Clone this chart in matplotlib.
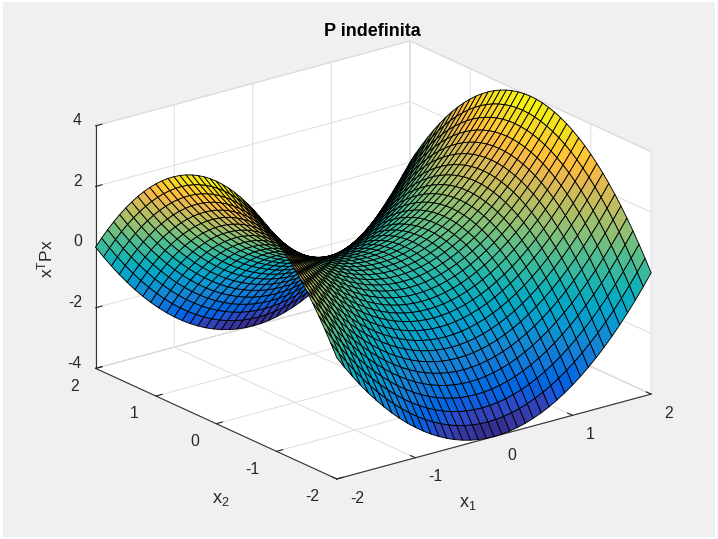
import numpy as np
import matplotlib
matplotlib.use("Agg")
import matplotlib.pyplot as plt
from matplotlib.colors import ListedColormap
from matplotlib.patches import Rectangle
from mpl_toolkits.mplot3d import proj3d

# Data
x1_grid = [-2.0,-1.9,-1.8,-1.7,-1.6,-1.5,-1.4,-1.3,-1.2,-1.1,-1.0,-0.9,-0.8,-0.7,-0.6,-0.5,-0.4,-0.3,-0.2,-0.1,0.0,
           0.1,0.2,0.3,0.4,0.5,0.6,0.7,0.8,0.9,1.0,1.1,1.2,1.3,1.4,1.5,1.6,1.7,1.8,1.9,2.0]
x2_grid = list(x1_grid)
# height of the surface along the edge x2 = 0 (as x1 varies)
z_along_x1 = [4.0,3.61,3.24,2.89,2.56,2.25,1.96,1.69,1.44,1.21,1.0,0.81,0.64,0.49,0.36,0.25,0.16,0.09,0.04,0.01,0.0,
              0.01,0.04,0.09,0.16,0.25,0.36,0.49,0.64,0.81,1.0,1.21,1.44,1.69,1.96,2.25,2.56,2.89,3.24,3.61,4.0]
# height of the surface along the edge x1 = 0 (as x2 varies)
z_along_x2 = [-4.0,-3.61,-3.24,-2.89,-2.56,-2.25,-1.96,-1.69,-1.44,-1.21,-1.0,-0.81,-0.64,-0.49,-0.36,-0.25,-0.16,-0.09,-0.04,-0.01,0.0,
              -0.01,-0.04,-0.09,-0.16,-0.25,-0.36,-0.49,-0.64,-0.81,-1.0,-1.21,-1.44,-1.69,-1.96,-2.25,-2.56,-2.89,-3.24,-3.61,-4.0]
x_ticks = [-2,-1,0,1,2]
y_ticks = [-2,-1,0,1,2]
z_ticks = [-4,-2,0,2,4]
title_text = "P indefinita"
x_label = r"$\mathregular{x_1}$"
y_label = r"$\mathregular{x_2}$"
z_label = r"$\mathregular{x^TPx}$"

parula = ListedColormap([
 [0.2081,0.1663,0.5292],[0.2116,0.1898,0.5777],[0.2123,0.2138,0.6270],[0.2081,0.2386,0.6771],
 [0.1959,0.2645,0.7279],[0.1707,0.2919,0.7792],[0.1253,0.3242,0.8303],[0.0591,0.3598,0.8683],
 [0.0117,0.3875,0.8820],[0.0060,0.4086,0.8828],[0.0165,0.4266,0.8786],[0.0329,0.4430,0.8720],
 [0.0498,0.4586,0.8641],[0.0629,0.4737,0.8554],[0.0723,0.4887,0.8467],[0.0779,0.5040,0.8384],
 [0.0793,0.5200,0.8312],[0.0749,0.5375,0.8263],[0.0641,0.5570,0.8240],[0.0488,0.5772,0.8228],
 [0.0343,0.5966,0.8199],[0.0265,0.6137,0.8135],[0.0239,0.6287,0.8038],[0.0231,0.6418,0.7913],
 [0.0228,0.6535,0.7768],[0.0267,0.6642,0.7607],[0.0384,0.6743,0.7436],[0.0590,0.6838,0.7254],
 [0.0843,0.6928,0.7062],[0.1133,0.7015,0.6859],[0.1453,0.7098,0.6646],[0.1801,0.7177,0.6424],
 [0.2178,0.7250,0.6193],[0.2586,0.7317,0.5954],[0.3022,0.7376,0.5712],[0.3482,0.7424,0.5473],
 [0.3953,0.7459,0.5244],[0.4420,0.7481,0.5033],[0.4871,0.7491,0.4840],[0.5300,0.7491,0.4661],
 [0.5709,0.7485,0.4494],[0.6099,0.7473,0.4337],[0.6473,0.7456,0.4188],[0.6834,0.7435,0.4044],
 [0.7184,0.7411,0.3905],[0.7525,0.7384,0.3768],[0.7858,0.7356,0.3633],[0.8185,0.7327,0.3498],
 [0.8507,0.7299,0.3360],[0.8824,0.7274,0.3217],[0.9139,0.7258,0.3063],[0.9450,0.7261,0.2886],
 [0.9739,0.7314,0.2666],[0.9938,0.7455,0.2403],[0.9990,0.7653,0.2164],[0.9955,0.7861,0.1967],
 [0.9880,0.8066,0.1794],[0.9789,0.8271,0.1633],[0.9697,0.8481,0.1475],[0.9626,0.8705,0.1309],
 [0.9589,0.8949,0.1132],[0.9598,0.9218,0.0948],[0.9661,0.9514,0.0755],[0.9763,0.9831,0.0538]])

plt.rcParams["font.family"] = ["Liberation Sans", "DejaVu Sans"]
plt.rcParams["mathtext.fontset"] = "custom"
plt.rcParams["mathtext.rm"] = "Liberation Sans"
plt.rcParams["mathtext.it"] = "Liberation Sans"
plt.rcParams["mathtext.bf"] = "Liberation Sans:bold"
plt.rcParams["axes.unicode_minus"] = False

W, H = 718, 539
TXT = "#262626"
fig = plt.figure(figsize=(W/100, H/100), dpi=100, facecolor="white")
fig.add_artist(Rectangle((3/W, 2/H), (W-6)/W, (H-4)/H, transform=fig.transFigure,
                         facecolor="#f0f0f0", edgecolor="none", zorder=-10))

ax = fig.add_axes([0, 0, 1, 1], projection="3d", proj_type="ortho", facecolor="none")
ax.patch.set_alpha(0)
ax.view_init(elev=20.6, azim=-127.5)

X1, X2 = np.meshgrid(x1_grid, x2_grid)
Z = np.add.outer(np.array(z_along_x2), np.array(z_along_x1))
surf = ax.plot_surface(X1, X2, Z, rstride=1, cstride=1, cmap=parula, vmin=-4, vmax=4,
                       shade=False, edgecolor="black", linewidth=0.65, antialiased=True)
surf.set_clip_on(False)

ax.set_xlim(-2, 2, view_margin=0)
ax.set_ylim(-2, 2, view_margin=0)
ax.set_zlim(-4, 4, view_margin=0)
ax.set_xticks(x_ticks); ax.set_yticks(y_ticks); ax.set_zticks(z_ticks)
ax.tick_params(labelsize=11.3, colors=TXT, pad=3)
ax.zaxis.set_tick_params(pad=-3)
ax.zaxis.set_ticks_position("upper")

for axis in (ax.xaxis, ax.yaxis, ax.zaxis):
    axis.set_pane_color((1, 1, 1, 1))
    axis.pane.set_edgecolor("#d9d9d9")
    axis.pane.set_linewidth(0.8)
    axis.line.set_color("#333333")
    axis.line.set_linewidth(0.8)
    axis._axinfo["grid"].update(color="#dddddd", linewidth=0.7, linestyle="-")
    axis._axinfo["tick"].update(inward_factor=0.0, outward_factor=0.25, linewidth={True: 0.8, False: 0.5},
                                color="#333333")

for t in ax.xaxis.get_major_ticks():
    t.label1.set_ha("left"); t.label1.set_va("center")
for t in ax.yaxis.get_major_ticks():
    t.label1.set_ha("right"); t.label1.set_va("center")
for t in ax.zaxis.get_major_ticks():
    t.label1.set_ha("right"); t.label1.set_va("baseline")

fig.text(372.5/W, 1-31/H, title_text, ha="center", va="center", fontsize=13, fontweight="bold", color="black")
fig.text(468/W, 1-504/H, x_label, ha="center", va="center", fontsize=13, color=TXT)
fig.text(221/W, 1-499/H, y_label, ha="center", va="center", fontsize=13, color=TXT)
fig.text(45/W, 1-259/H, z_label, ha="center", va="center", fontsize=12.5, color=TXT, rotation=90)

# Fit the box onto the reference's corners (display pixels, y up)
target = {"front": (337.0, H-479.0), "right": (651.0, H-394.0), "left": (95.5, H-368.5)}
def corners():
    fig.canvas.draw()
    M = ax.get_proj()
    out = {}
    for k, p in {"front": (-2,-2,-4), "right": (2,-2,-4), "left": (-2,2,-4)}.items():
        xs, ys, _ = proj3d.proj_transform(*p, M)
        out[k] = np.array(ax.transData.transform((xs, ys)))
    return out
zoom = 1.0
ax.set_box_aspect((1, 1, 0.654), zoom=zoom)
c = corners()
zoom *= (target["right"][0]-target["left"][0]) / (c["right"][0]-c["left"][0])
ax.set_box_aspect((1, 1, 0.654), zoom=zoom)
c = corners()
dx = np.mean([target[k][0]-c[k][0] for k in c]) / W
dy = np.mean([target[k][1]-c[k][1] for k in c]) / H
ax.set_position([dx, dy, 1, 1])

fig.savefig("out.png", dpi=100, facecolor=fig.get_facecolor())
